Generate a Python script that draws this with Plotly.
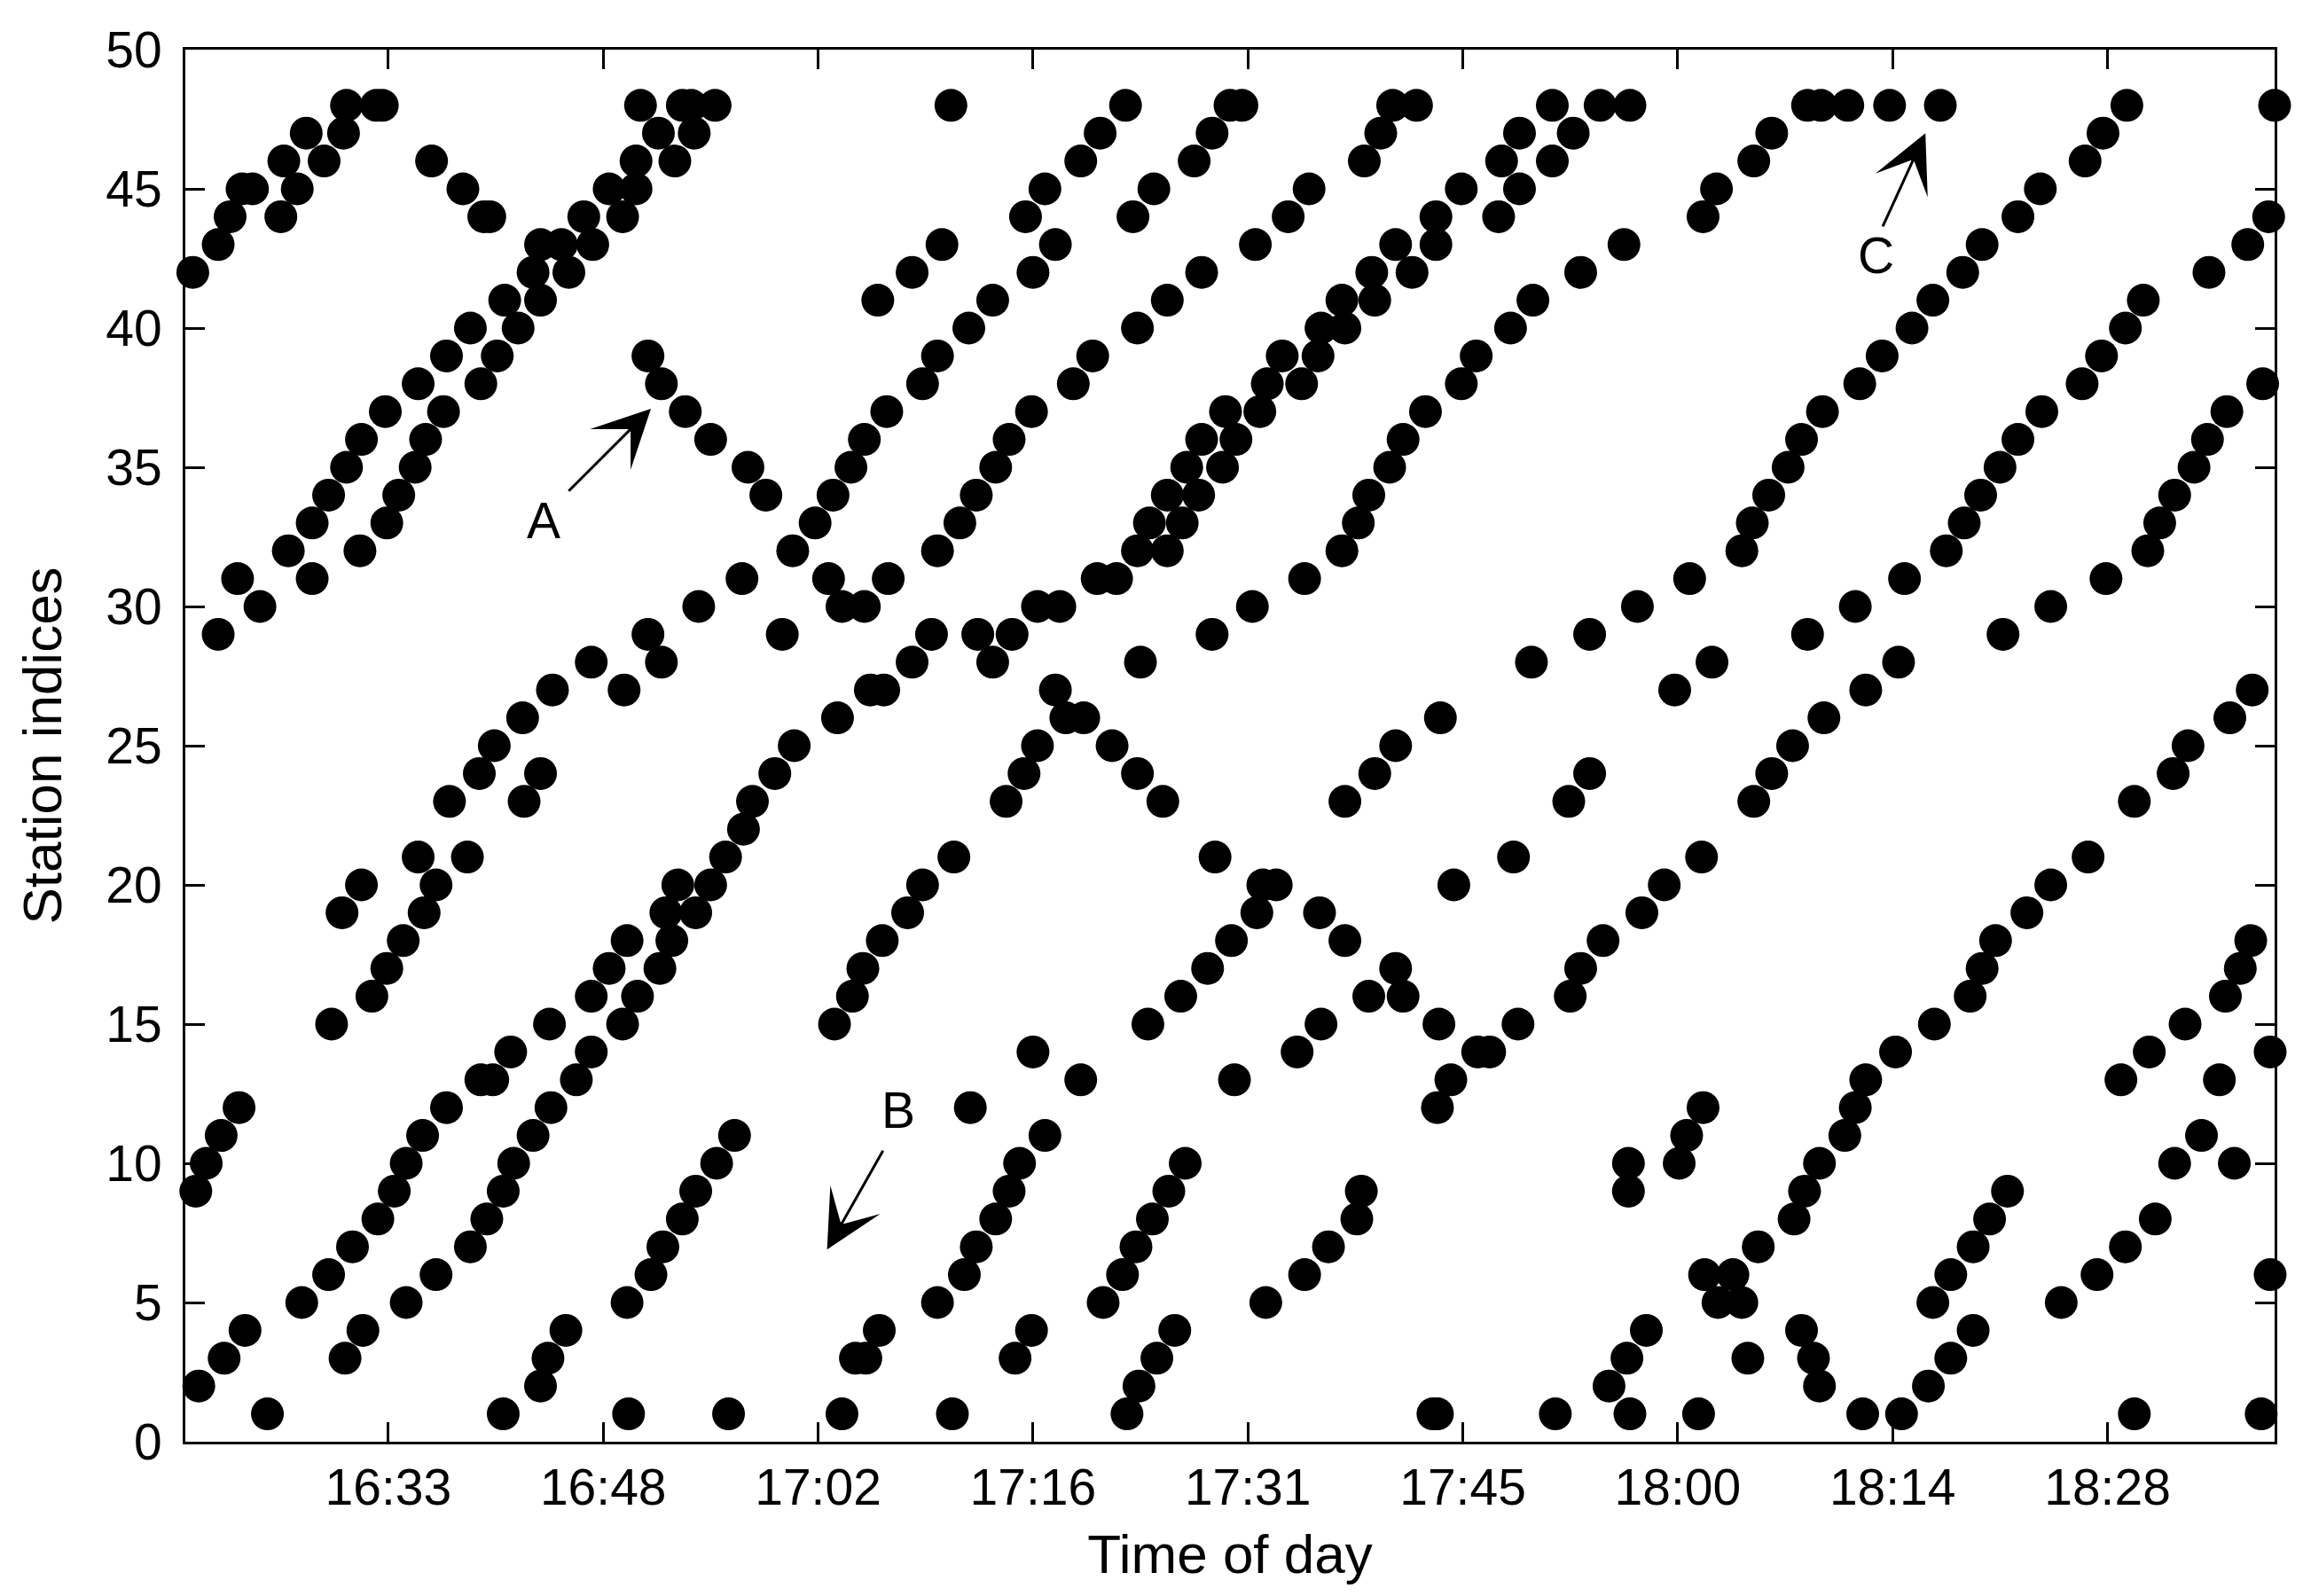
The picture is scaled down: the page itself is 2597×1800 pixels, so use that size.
"""Station index vs time of day: one dot per detection, MATLAB-style axes."""

import plotly.graph_objects as go

# time is minutes after 16:00, station is the integer station index
times_1620_1655 = [
    20.1, 21.8, 22.6, 23.4, 24.1, 26.0, 26.2, 27.1, 27.7, 28.9, 30.2, 30.4, 32.4, 32.8, 36.1, 38.2, 39.6, 40.0,
    43.4, 44.8, 42.9, 45.3, 43.4, 41.0, 41.9, 38.7, 40.5, 37.1, 39.4, 35.2, 36.9, 33.0, 35.7, 31.4, 35.0, 30.4, 33.9, 29.2,
    46.3, 46.9, 48.9, 48.0, 49.8, 49.8, 52.4, 51.3, 53.7, 50.1, 52.9, 53.5, 50.6, 51.5, 53.1, 54.8,
    28.1, 33.1, 21.8, 23.1, 24.6, 26.5, 28.1, 31.3,
    54.0, 50.6, 51.5, 46.8, 49.0, 44.2, 42.2, 40.3, 39.3, 43.4, 42.3, 37.3, 35.2, 38.5, 31.4, 36.4, 30.1, 35.6, 34.2, 33.1,
    52.6, 53.8, 51.8, 52.2, 49.2, 51.4, 48.0,
    32.1, 29.4, 23.2, 22.0, 21.0, 20.3, 23.6, 22.2, 20.5, 25.1,
    37.1, 35.5, 34.4, 33.6, 32.5, 30.8, 29.2, 27.4, 31.5, 30.3,
    41.4, 39.4, 40.2, 44.0, 46.8, 49.9, 48.9, 46.8, 45.8, 44.1, 42.9, 41.6, 40.9, 39.8, 38.7, 36.4, 34.4,
    45.1, 43.9, 43.4, 40.9, 49.3, 49.2, 50.8, 51.6, 52.9, 53.8,
]
stations_1620_1655 = [
    42, 43, 44, 45, 45, 44, 46, 45, 47, 46, 47, 48, 48, 48, 46, 45, 44, 44,
    43, 43, 42, 42, 41, 41, 40, 40, 39, 39, 38, 38, 37, 37, 36, 36, 35, 35, 34, 34,
    44, 43, 44, 45, 45, 46, 46, 47, 47, 48, 48, 48, 39, 38, 37, 36,
    33, 33, 29, 31, 30, 32, 31, 32,
    30, 29, 28, 28, 27, 27, 26, 25, 24, 24, 23, 23, 21, 21, 20, 20, 19, 19, 18, 17,
    20, 19, 19, 18, 18, 17, 17,
    16, 15, 12, 11, 10, 9, 4, 3, 2, 1,
    12, 11, 10, 9, 8, 7, 6, 5, 4, 3,
    14, 13, 13, 15, 16, 16, 15, 14, 13, 12, 11, 10, 9, 8, 7, 6, 5,
    4, 3, 2, 1, 1, 5, 6, 7, 8, 9,
]

times_1655_1730 = [
    55.1, 70.9, 82.6, 80.9, 79.6, 77.2, 75.9, 77.9, 76.4, 73.7, 72.1, 70.0, 69.0, 66.6, 65.1, 64.2, 63.0,
    70.3, 68.3, 66.0, 57.3, 58.5,
    88.4, 87.2, 84.5, 83.1, 87.7, 85.4, 83.4, 80.4, 79.1, 76.3, 74.8, 73.9, 72.6,
    89.3, 87.7, 89.1, 86.7, 85.4, 87.5,
    61.8, 60.3, 56.9, 59.6, 62.7, 63.6, 65.1, 66.7, 71.5, 70.0, 69.6, 68.3, 65.5, 66.4, 63.3, 60.4, 59.1, 57.6, 57.0, 55.8, 54.8,
    72.7, 75.0, 73.7, 76.7, 78.2, 80.7, 82.0, 83.4, 85.4, 84.2, 86.4, 88.4, 83.6, 77.9, 78.6, 79.8, 76.7, 81.7, 75.8, 83.4,
    74.6, 85.1, 71.1, 69.0, 68.0, 66.3, 65.0, 88.6, 89.7, 88.1,
    64.3, 63.1, 56.4, 55.2, 56.0, 63.6, 71.0, 66.1, 64.5, 65.2,
    76.4, 79.6, 72.2, 77.2, 75.5, 74.8, 73.9, 72.6, 71.8, 70.0, 76.3, 75.2,
    84.1, 86.3, 89.9, 86.6, 85.5, 84.4, 83.3, 82.4, 81.1, 85.9, 84.7, 83.5, 82.7,
]
stations_1655_1730 = [
    48, 48, 48, 47, 46, 45, 44, 43, 42, 41, 40, 39, 38, 37, 36, 35, 34,
    43, 42, 41, 35, 34,
    47, 46, 45, 44, 42, 41, 40, 39, 38, 37, 36, 35, 34,
    37, 36, 35, 35, 34, 34,
    33, 32, 31, 29, 31, 30, 30, 31, 33, 32, 29, 28, 27, 27, 26, 25, 24, 23, 22, 21, 20,
    29, 29, 28, 30, 30, 31, 31, 32, 32, 33, 33, 29, 28, 27, 26, 26, 25, 25, 24, 24,
    23, 23, 21, 20, 19, 18, 17, 21, 18, 17,
    16, 15, 11, 10, 1, 1, 1, 4, 3, 3,
    14, 13, 12, 11, 10, 9, 8, 7, 6, 5, 4, 3,
    15, 16, 13, 10, 9, 8, 7, 6, 5, 4, 3, 2, 1,
]

times_1730_1805 = [
    89.6, 90.4, 100.5, 102.1, 99.7, 98.6, 94.9, 93.5, 91.3,
    111.2, 114.4, 116.4, 109.0, 112.6, 107.8, 111.2, 105.1, 109.0, 103.4, 107.6, 100.7, 103.4, 99.1, 101.8,
    97.1, 99.3, 95.7, 97.3, 93.1, 95.5, 92.1, 94.4, 91.6, 90.0,
    116.0, 113.1, 109.9, 108.4, 106.1, 105.1, 102.7, 101.2, 100.3, 98.9, 122.2, 121.3,
    98.2, 97.1, 94.6, 91.1, 109.8, 113.7, 116.9, 120.4, 123.9, 124.6, 119.4, 121.9, 103.7, 100.7, 99.3, 97.3, 113.7, 112.3,
    91.8, 92.7, 91.4, 95.6, 97.3, 100.7, 104.6, 108.6, 121.2, 118.7, 117.2, 114.6, 113.1,
    98.9, 101.2, 95.7, 94.1, 103.6, 108.9, 106.2, 107.0, 104.4, 103.5, 112.4, 121.3, 120.2, 119.7, 116.3, 116.3,
    98.4, 98.1, 96.2, 94.6, 92.0, 121.4, 123.3, 122.3, 123.9, 124.3, 117.5, 116.2, 115.0, 116.4,
    103.2, 103.5, 111.4, 121.0,
]
stations_1730_1805 = [
    48, 48, 48, 48, 47, 46, 45, 44, 43,
    48, 48, 48, 47, 47, 46, 46, 45, 45, 44, 44, 43, 43, 42, 42,
    41, 41, 40, 40, 39, 39, 38, 38, 37, 36,
    43, 42, 41, 40, 39, 38, 37, 36, 35, 34, 45, 44,
    33, 32, 31, 30, 28, 29, 30, 31, 32, 33, 27, 28, 26, 25, 24, 23, 24, 23,
    20, 20, 19, 19, 18, 17, 20, 21, 21, 20, 19, 18, 17,
    16, 16, 15, 14, 15, 15, 14, 14, 13, 12, 16, 12, 11, 10, 10, 9,
    9, 8, 7, 6, 5, 6, 6, 5, 5, 3, 4, 3, 2, 1,
    1, 1, 1, 1,
]

times_1805_1840 = [
    124.7, 125.9, 128.3, 129.2, 131.0, 133.8, 137.2, 149.7, 148.1, 146.9, 143.9, 142.4, 140.0, 138.7, 136.7, 135.3,
    133.3, 131.8, 129.3, 127.9, 127.0, 125.7,
    159.6, 159.2, 157.8, 155.2, 150.8, 149.6, 148.0, 146.7, 144.0, 142.4, 141.2, 139.9,
    158.8, 156.4, 155.1, 154.2, 152.9,
    138.8, 137.6, 134.8, 131.5, 128.3, 151.9, 151.1, 148.3, 144.6, 141.4, 134.4, 132.2, 129.4, 127.3, 125.9, 124.7,
    158.1, 156.6, 153.8, 152.8, 150.2, 147.1, 144.6, 143.0, 140.9, 140.0, 158.0, 157.3,
    139.2, 136.8, 134.2, 132.2, 131.5, 130.8, 129.1, 128.1, 127.4, 125.0, 127.9, 128.7, 129.1, 132.0, 134.6,
    136.4, 137.9, 139.4, 136.7, 137.9, 139.4, 140.5, 141.7, 145.3, 147.7, 149.6, 151.6, 152.9, 154.7, 156.9,
    149.3, 151.2, 153.6, 156.3, 155.9, 159.3, 159.3, 150.2, 158.7,
]
stations_1805_1840 = [
    46, 47, 48, 48, 48, 48, 48, 48, 47, 46, 45, 44, 43, 42, 41, 40,
    39, 38, 37, 36, 35, 34,
    48, 44, 43, 42, 41, 40, 39, 38, 37, 36, 35, 34,
    38, 37, 36, 35, 34,
    33, 32, 31, 30, 29, 33, 32, 31, 30, 29, 28, 27, 26, 25, 24, 23,
    27, 26, 25, 24, 23, 21, 20, 19, 18, 17, 18, 17,
    16, 15, 14, 13, 12, 11, 10, 9, 8, 7, 4, 3, 2, 1, 1,
    2, 3, 4, 5, 6, 7, 8, 9, 5, 6, 7, 8, 10, 11, 10,
    13, 14, 15, 16, 13, 14, 6, 1, 1,
]

# x ticks: first label at 16:33.2, one every 14.4 minutes
tick_minutes = [33.2, 47.6, 62.0, 76.4, 90.8, 105.2, 119.6, 134.0, 148.4]
tick_labels = ["16:33", "16:48", "17:02", "17:16", "17:31", "17:45", "18:00", "18:14", "18:28"]

FONT = "Liberation Sans, Arial, Helvetica, sans-serif"

times = times_1620_1655 + times_1655_1730 + times_1730_1805 + times_1805_1840
stations = stations_1620_1655 + stations_1655_1730 + stations_1730_1805 + stations_1805_1840

fig = go.Figure()
fig.add_trace(go.Scatter(
    x=times, y=stations,
    mode="markers",
    marker=dict(size=37, color="black", line=dict(width=0)),
    cliponaxis=False,
    showlegend=False,
    hoverinfo="x+y",
))

axis_common = dict(
    showline=True, linewidth=3, linecolor="black", mirror="ticks",
    ticks="inside", ticklen=22, tickwidth=3, tickcolor="black",
    showgrid=False, zeroline=False, automargin=False,
    tickfont=dict(family=FONT, size=57, color="black"),
)

fig.update_xaxes(
    range=[19.6, 159.6],
    tickvals=tick_minutes, ticktext=tick_labels,
    ticklabelstandoff=0,
    title=dict(text="Time of day", font=dict(family=FONT, size=62, color="black"), standoff=23),
    **axis_common,
)
fig.update_yaxes(
    range=[0, 50],
    tickvals=list(range(0, 51, 5)),
    ticklabelstandoff=12,
    title=dict(text="Station indices", font=dict(family=FONT, size=62, color="black"), standoff=30),
    **axis_common,
)

# arrows pointing at the features discussed in the text: (label, label pos, tail, tip)
arrows = [
    ("A", (43.6, 33.1), (45.2, 34.1), (50.8, 37.1)),
    ("B", (67.4, 11.9), (66.4, 10.5), (62.6, 6.9)),
    ("C", (132.9, 42.6), (133.3, 43.6), (136.2, 47.0)),
]
for label, (lx, ly), (tx, ty), (hx, hy) in arrows:
    fig.add_annotation(
        x=hx, y=hy, ax=tx, ay=ty, xref="x", yref="y", axref="x", ayref="y",
        text="", showarrow=True, arrowhead=3, arrowwidth=3, arrowsize=3.6,
        arrowcolor="black", standoff=0, startstandoff=0,
    )
    fig.add_annotation(
        x=lx, y=ly, xref="x", yref="y", text=label, showarrow=False,
        font=dict(family=FONT, size=57, color="black"),
    )

fig.update_layout(
    width=2597, height=1800,
    paper_bgcolor="white", plot_bgcolor="white",
    margin=dict(l=201, r=40, t=48, b=182),
    font=dict(family=FONT, color="black"),
)

fig.write_html("out.html")
